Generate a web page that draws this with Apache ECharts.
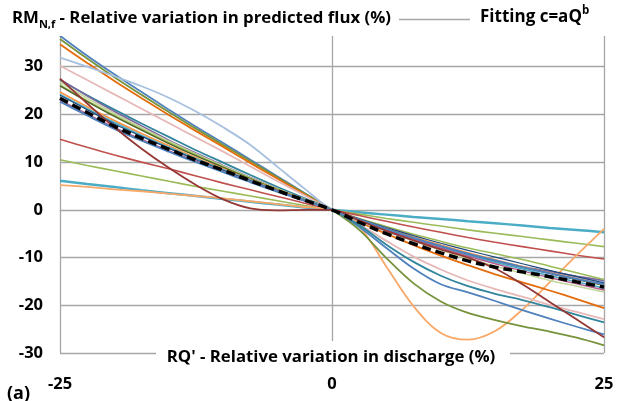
<!DOCTYPE html>
<html><head><meta charset="utf-8">
<script src="https://cdn.jsdelivr.net/npm/echarts@6/dist/echarts.min.js"></script>
<style>html,body{margin:0;padding:0;background:#fff}#c{width:617px;height:401px}</style>
</head><body><div id="c"></div>
<script>
// Relative variation in discharge (%)
const xValues = [-25, -22.5, -20, -17.5, -15, -12.5, -10, -7.5, -5, -2.5, 0, 2.5, 5, 7.5, 10, 12.5, 15, 17.5, 20, 22.5, 25];
const xTickValues = [-25, 0, 25];
const yTickValues = [-30, -20, -10, 0, 10, 20, 30, 40];

// Relative variation in predicted flux (%) for each series
const sBlueTop     = [36.5, 32.3, 28.4, 24.7, 21.0, 17.4, 14.0, 10.5, 7.0, 3.5, 0, -3.6, -8.0, -12.3, -15.6, -17.3, -19.1, -21.0, -22.8, -24.5, -26.1];
const sOlive       = [35.8, 31.7, 27.8, 24.1, 20.5, 17.0, 13.6, 10.2, 6.8, 3.4, 0, -4.2, -10.1, -15.4, -19.2, -21.6, -23.1, -24.4, -25.5, -26.8, -28.4];
const sDarkOrange  = [34.7, 30.8, 27.0, 23.4, 19.9, 16.5, 13.2, 9.8, 6.5, 3.2, 0, -2.6, -5.0, -7.4, -9.6, -11.6, -13.5, -15.2, -16.9, -18.7, -20.6];
const sLightBlue   = [31.9, 30.0, 28.0, 25.9, 23.5, 20.6, 17.3, 13.6, 9.0, 4.4, 0, -2.3, -4.5, -6.4, -8.2, -9.6, -10.9, -12.1, -13.1, -14.1, -15.0];
const sPink        = [30.2, 27.2, 24.2, 21.2, 18.2, 15.2, 12.2, 9.1, 6.0, 3.0, 0, -3.0, -6.5, -9.8, -12.5, -14.8, -16.6, -18.2, -19.9, -21.4, -22.9];
const sDarkTeal    = [27.2, 24.0, 21.0, 18.1, 15.3, 12.5, 9.9, 7.3, 4.8, 2.4, 0, -3.2, -7.3, -10.9, -13.8, -16.0, -17.6, -18.9, -20.4, -22.0, -23.6];
const sDarkRed     = [27.5, 22.3, 17.3, 12.8, 8.8, 5.2, 2.2, 0.3, -0.1, 0, 0, -2.2, -4.4, -6.4, -8.3, -10.0, -12.3, -15.6, -19.3, -23.0, -26.7];
const sRed         = [14.8, 13.1, 11.5, 10.0, 8.6, 7.1, 5.6, 4.2, 2.8, 1.4, 0, -1.2, -2.4, -3.6, -4.7, -5.8, -6.8, -7.7, -8.6, -9.5, -10.3];
const sLightGreen  = [10.5, 9.3, 8.2, 7.1, 6.0, 4.9, 3.9, 2.9, 1.9, 0.9, 0, -0.9, -1.8, -2.6, -3.4, -4.2, -4.9, -5.6, -6.3, -7.0, -7.7];
const sTealLow     = [6.1, 5.4, 4.8, 4.1, 3.5, 2.9, 2.3, 1.7, 1.1, 0.5, 0, -0.5, -1.0, -1.5, -1.9, -2.4, -2.8, -3.3, -3.8, -4.2, -4.7];
const sLightOrange = [5.2, 4.8, 4.3, 3.9, 3.4, 2.9, 2.4, 1.8, 1.2, 0.6, 0, -3.5, -11.9, -20.2, -25.8, -27.2, -25.4, -20.9, -15.2, -9.5, -4.0];
const sPurple      = [27.4, 23.9, 20.6, 17.6, 14.6, 11.9, 9.3, 6.8, 4.4, 2.2, 0, -2.1, -4.1, -6.0, -7.7, -9.3, -10.7, -11.9, -12.9, -13.9, -14.8];
const sPaleGreen   = [26.8, 23.4, 20.2, 17.2, 14.4, 11.7, 9.2, 6.7, 4.4, 2.2, 0, -2.2, -4.4, -6.5, -8.4, -10.2, -11.8, -13.3, -14.8, -16.0, -17.2];
const sGreen       = [26.2, 22.9, 19.8, 16.9, 14.1, 11.5, 9.0, 6.6, 4.3, 2.1, 0, -1.8, -3.5, -5.1, -6.6, -8.0, -9.2, -10.4, -11.8, -13.2, -14.6];
const sDarkGreen   = [26.0, 22.7, 19.6, 16.7, 13.9, 11.3, 8.9, 6.5, 4.2, 2.1, 0, -2.0, -4.0, -5.9, -7.6, -9.2, -10.6, -12.0, -13.3, -14.6, -15.8];
const sOrange      = [24.7, 21.6, 18.7, 16.0, 13.4, 10.9, 8.6, 6.3, 4.1, 2.0, 0, -2.0, -3.9, -5.7, -7.4, -9.0, -10.5, -11.9, -13.2, -14.4, -15.6];
const sTeal        = [24.2, 21.2, 18.3, 15.6, 13.1, 10.7, 8.4, 6.2, 4.0, 2.0, 0, -2.1, -4.1, -6.0, -7.8, -9.5, -11.0, -12.4, -13.8, -15.1, -16.4];
const sNavy        = [24.0, 21.0, 18.0, 15.4, 12.9, 10.5, 8.3, 6.1, 4.0, 2.0, 0, -1.9, -3.7, -5.4, -7.0, -8.5, -9.9, -11.3, -12.7, -14.0, -15.3];
const sMauve       = [23.0, 20.1, 17.3, 14.8, 12.4, 10.2, 8.0, 5.9, 3.9, 1.9, 0, -2.1, -4.2, -6.2, -8.0, -9.7, -11.3, -12.8, -14.2, -15.5, -16.8];
const sBlue        = [22.7, 19.8, 17.0, 14.5, 12.2, 10.0, 7.9, 5.8, 3.8, 1.9, 0, -2.0, -4.0, -5.9, -7.6, -9.2, -10.6, -12.0, -13.3, -14.5, -15.6];
const sFitting     = [23.4, 20.4, 17.5, 15.0, 12.7, 10.4, 8.3, 6.1, 4.0, 2.0, 0, -2.6, -5.0, -7.1, -9.0, -10.7, -12.0, -13.0, -14.0, -15.1, -16.2];

const seriesDefs = [
  ['a', sTealLow, '#4BACC6', 2.5],
  ['b', sLightGreen, '#9BBB59', 1.6],
  ['c', sRed, '#C0504D', 1.6],
  ['d', sLightOrange, '#F9A868', 1.8],
  ['e', sBlueTop, '#4F81BD', 1.8],
  ['f', sOlive, '#77933C', 1.8],
  ['g', sDarkOrange, '#E46C0A', 1.8],
  ['h', sLightBlue, '#A7C0DE', 1.8],
  ['i', sPink, '#E6B9B8', 1.8],
  ['j', sDarkTeal, '#31859C', 1.8],
  ['k', sPurple, '#8064A2', 1.6],
  ['l', sPaleGreen, '#C3D69B', 1.6],
  ['m', sGreen, '#9BBB59', 1.6],
  ['n', sDarkGreen, '#4F6228', 1.4],
  ['o', sOrange, '#F79646', 1.8],
  ['p', sTeal, '#4BACC6', 1.6],
  ['q', sNavy, '#1F497D', 1.2],
  ['r', sMauve, '#B65C8C', 1.4],
  ['s', sBlue, '#4F81BD', 2.0],
  ['t', sDarkRed, '#953735', 1.8],
];

const series = seriesDefs.map(([name, vals, color, w]) => ({
  name, type: 'line', smooth: 0.35, showSymbol: false, silent: true,
  data: xValues.map((x, i) => [x, vals[i]]),
  lineStyle: { color, width: w }, z: 3
}));
series.push({
  name: 'fit', type: 'line', smooth: 0.35, showSymbol: false, silent: true,
  data: xValues.map((x, i) => [x, sFitting[i]]),
  lineStyle: { color: '#000', width: 3.5, type: [9, 5] }, z: 4
});

const font = '"Open Sans", "Liberation Sans", sans-serif';
const chart = echarts.init(document.getElementById('c'), null, { renderer: 'canvas' });
chart.setOption({
  animation: false,
  backgroundColor: '#fff',
  grid: { left: 60, right: 13, top: 19, bottom: 48 },
  xAxis: {
    type: 'value', min: -25, max: 25, interval: 25,
    axisLine: { show: true, lineStyle: { color: '#a6a6a6' } },
    axisTick: { show: true, length: 7, lineStyle: { color: '#a6a6a6' } },
    splitLine: { show: true, lineStyle: { color: '#a6a6a6', width: 1.3 } },
    axisLabel: { margin: 23, fontFamily: font, fontWeight: 'bold', fontSize: 16.5, color: '#000',
      formatter: v => xTickValues.includes(v) ? String(v) : '' }
  },
  yAxis: {
    type: 'value', min: -30, max: 40, interval: 10,
    axisLine: { show: true, lineStyle: { color: '#a6a6a6' } },
    axisTick: { show: true, length: 7, lineStyle: { color: '#a6a6a6' } },
    splitLine: { show: true, lineStyle: { color: '#a6a6a6', width: 1.3 } },
    axisLabel: { margin: 17, fontFamily: font, fontWeight: 'bold', fontSize: 16.5, color: '#000',
      formatter: v => (yTickValues.includes(v) && v !== 40) ? String(v) : '' }
  },
  series,
  graphic: [
    { type: 'rect', shape: { x: 0, y: 0, width: 399, height: 36 }, style: { fill: '#fff' }, z: 100 },
    { type: 'rect', shape: { x: 470, y: 0, width: 147, height: 36 }, style: { fill: '#fff' }, z: 100 },
    { type: 'rect', shape: { x: 156, y: 341, width: 354, height: 30 }, style: { fill: '#fff' }, z: 100 },
    { type: 'text', x: 12, y: 6, z: 101, style: {
        text: '{a|RM}{s|N,f}{a| - Relative variation in predicted flux (%)}',
        rich: {
          a: { fontFamily: font, fontWeight: 'bold', fontSize: 16.8, lineHeight: 24, fill: '#000' },
          s: { fontFamily: font, fontWeight: 'bold', fontSize: 11, lineHeight: 10, verticalAlign: 'bottom', fill: '#000' }
        } } },
    { type: 'text', x: 480, y: 5, z: 101, style: {
        text: '{a|Fitting c=aQ}{p|b}',
        rich: {
          a: { fontFamily: font, fontWeight: 'bold', fontSize: 17, lineHeight: 25, fill: '#000' },
          p: { fontFamily: font, fontWeight: 'bold', fontSize: 11.5, lineHeight: 12, verticalAlign: 'top', fill: '#000' }
        } } },
    { type: 'text', x: 331, y: 357, z: 101, style: {
        text: "RQ' - Relative variation in discharge (%)", fontFamily: font, fontWeight: 'bold', fontSize: 16.8,
        fill: '#000', align: 'center', verticalAlign: 'middle' } },
    { type: 'text', x: 7, y: 394, z: 101, style: {
        text: '(a)', fontFamily: font, fontWeight: 'bold', fontSize: 18,
        fill: '#000', align: 'left', verticalAlign: 'middle' } }
  ]
});
</script></body></html>
